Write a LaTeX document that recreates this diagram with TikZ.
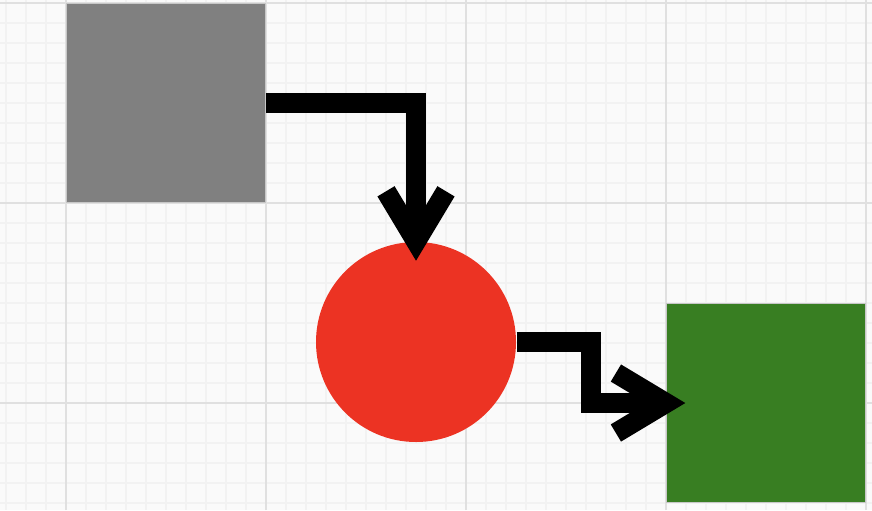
\documentclass[tikz,border=0pt]{standalone}
\usepackage{xcolor}
\usepackage{tikz}
\usetikzlibrary{positioning}

\definecolor{paper}{HTML}{FAFAFA}
\definecolor{minorline}{HTML}{F2F2F2}
\definecolor{majorline}{HTML}{E0E0E0}
\definecolor{boxgray}{HTML}{808080}
\definecolor{dotred}{HTML}{EC3323}
\definecolor{boxgreen}{HTML}{387E22}

\tikzset{
	block/.style={draw=black!22,line width=.35pt,minimum size=1.99cm,inner sep=0pt},
	flow/.style={line width=.2cm,line join=miter,line cap=butt,black}
}

\begin{document}
\begin{tikzpicture}
	\useasboundingbox (0,0) rectangle (8.72,5.10);
	\fill[paper] (0,0) rectangle (8.72,5.10);
	\draw[xshift=.06cm,yshift=.07cm,step=.2cm,minorline,line width=.3pt] (-.06,-.07) grid (8.66,5.03);
	\draw[xshift=.66cm,yshift=1.07cm,step=2cm,majorline,line width=.75pt] (-.66,-1.07) grid (8.06,4.03);

	\node[block,fill=boxgray] (src) at (1.66,4.07) {};
	\node[circle,fill=dotred,minimum size=2cm,inner sep=0pt] (dot) at (4.16,1.68) {};
	\node[block,fill=boxgreen] (dst) at (7.66,1.07) {};

%	====================================================================
	\draw[flow] (src.east) -| (dot.north);
	\draw[flow] ([shift={(-.3,.5)}]dot.north) -- (dot.north) -- ([shift={(.3,.5)}]dot.north);
%	====================================================================
	\coordinate (bend) at (5.905,1.68);
	\draw[flow] (dot.east) -- (bend) |- (dst.west);
	\draw[flow] ([shift={(-.5,.3)}]dst.west) -- (dst.west) -- ([shift={(-.5,-.3)}]dst.west);
\end{tikzpicture}
\end{document}
